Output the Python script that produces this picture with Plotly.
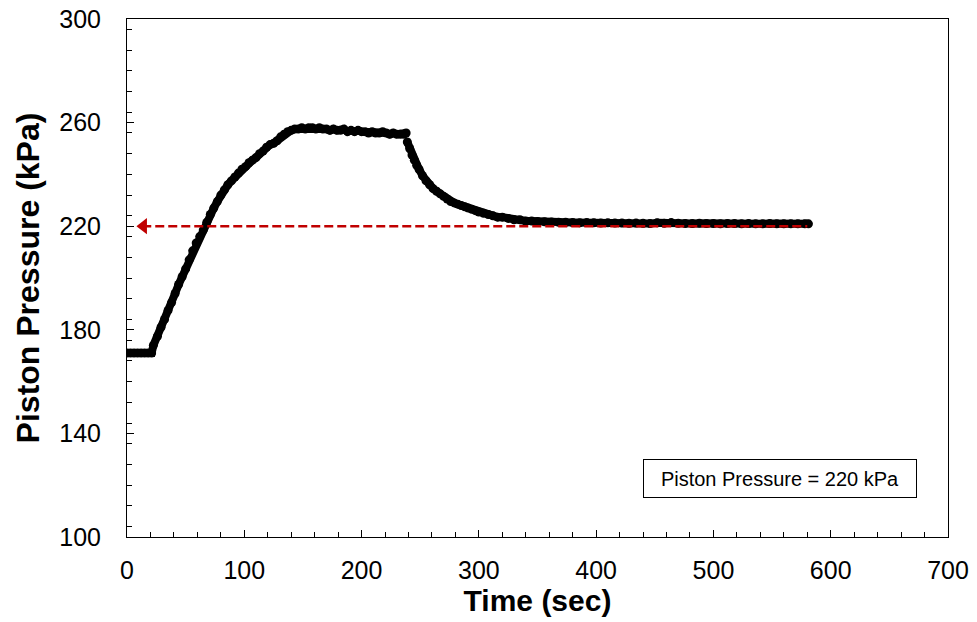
import plotly.graph_objects as go

# Loading phase (hold, ramp, plateau)
load_time_s = [0, 3, 6, 9, 12, 15, 18, 21, 22.5, 26, 29, 32, 35, 38, 41, 44, 47, 50,
               53, 56, 59, 62, 65, 68, 71, 74, 77, 80, 83, 86, 89, 92, 95, 98, 101,
               104, 107, 110, 113, 116, 119, 122, 125, 128, 131, 134, 137, 140, 143,
               146, 149, 152, 155, 158, 161, 164, 167, 170, 173, 176, 179, 182, 185,
               188, 191, 194, 197, 200, 203, 206, 209, 212, 215, 218, 221, 224, 227,
               230, 233, 236, 238]
load_pressure_kpa = [171, 171, 171, 171, 171, 171, 171, 171, 174, 177.5, 181, 184,
                     187.5, 190.5, 194, 197.5, 200.5, 203.5, 207, 210.5, 213.5, 216,
                     218.5, 221.5, 224.5, 227, 229.5, 232, 234, 236, 237.5, 239, 240.5,
                     242, 243, 244.5, 245.5, 246.5, 248, 249, 250.5, 251.5, 252, 253,
                     254.5, 255.5, 256.5, 257, 257.5, 257.5, 258, 257.5, 258, 258,
                     257.5, 258, 257.5, 257.5, 257, 257.5, 257, 257, 257.5, 256.5, 257,
                     256.5, 257, 256.5, 256.5, 256, 256.5, 256, 256, 256.5, 256, 255.5,
                     256, 255.5, 255.5, 255.5, 256]

# Unloading phase (relaxation to target)
unload_time_s = [239, 241, 243, 245, 247, 249, 252, 255, 258, 261, 264, 267, 270, 273,
                 276, 279, 282, 285, 288, 291, 294, 297, 300, 304, 308, 312, 316, 320,
                 325, 330, 335, 340, 345, 350, 356, 362, 368, 374, 380, 386, 392, 398,
                 404, 410, 416, 422, 428, 434, 440, 446, 452, 458, 464, 470, 476, 482,
                 488, 494, 500, 506, 512, 518, 524, 530, 536, 542, 548, 554, 560, 566,
                 572, 578, 581]
unload_pressure_kpa = [252.5, 250, 247.5, 245.5, 243.5, 242, 239.5, 237.5, 236, 234.5,
                       233.5, 232.5, 231.5, 230.5, 229.5, 229, 228.5, 228, 227.5, 227,
                       226.5, 226, 225.5, 225, 224.5, 224, 223.5, 223.5, 223, 222.5,
                       222.5, 222, 222, 221.8, 221.7, 221.6, 221.5, 221.5, 221.4, 221.3,
                       221.4, 221.3, 221.2, 221.3, 221.2, 221.2, 221.1, 221.2, 221.1,
                       221.0, 221.3, 221.1, 221.4, 221.1, 221.0, 221.0, 221.1, 221.0,
                       221.0, 220.9, 221.0, 221.0, 220.9, 221.0, 220.9, 220.9, 221.0,
                       220.9, 220.9, 220.9, 220.9, 220.9, 220.9]

target_pressure_kpa = 220
target_line_time_s = [13, 580]
box_text = "Piston Pressure = 220 kPa"

FONT = "Arial, Liberation Sans, sans-serif"

fig = go.Figure()
for t, p in [(load_time_s, load_pressure_kpa), (unload_time_s, unload_pressure_kpa)]:
    fig.add_trace(go.Scatter(
        x=t, y=p, mode="lines+markers",
        line=dict(color="black", width=8),
        marker=dict(color="black", size=9),
        showlegend=False, hoverinfo="skip"))

fig.add_trace(go.Scatter(
    x=target_line_time_s, y=[target_pressure_kpa] * 2, mode="lines",
    line=dict(color="#C00000", width=2.6, dash="9px,4px"),
    showlegend=False, hoverinfo="skip"))
fig.add_trace(go.Scatter(
    x=[target_line_time_s[0] + 1], y=[target_pressure_kpa], mode="markers",
    marker=dict(symbol="triangle-left", size=14, color="#C00000"),
    showlegend=False, hoverinfo="skip"))

fig.add_annotation(
    x=557, y=122.6, xref="x", yref="y", xanchor="center", yanchor="middle",
    text=box_text, showarrow=False, font=dict(family=FONT, size=20, color="black"),
    bordercolor="black", borderwidth=1, borderpad=1, width=270, height=35,
    bgcolor="white")

axis_common = dict(
    showgrid=False, zeroline=False, showline=True, linecolor="black", linewidth=1,
    mirror=True, ticks="inside", tickcolor="black", tickwidth=1, ticklen=7,
    tickfont=dict(family=FONT, size=25, color="black"),
    ticklabeloverflow="allow",
)

fig.update_xaxes(
    range=[0, 700], dtick=100, tick0=0,
    minor=dict(ticks="inside", ticklen=5, dtick=20, tickcolor="black", tickwidth=1),
    ticklabelstandoff=11,
    title=dict(text="<b>Time (sec)</b>", font=dict(family=FONT, size=30, color="black"),
               standoff=0),
    **axis_common)
fig.update_yaxes(
    range=[100, 300], dtick=40, tick0=100,
    minor=dict(ticks="inside", ticklen=5, dtick=8, tickcolor="black", tickwidth=1),
    ticklabelstandoff=20,
    title=dict(text="<b>Piston Pressure (kPa)</b>",
               font=dict(family=FONT, size=32, color="black"), standoff=10),
    **axis_common)

# page body has an 8px default margin: size the figure to fit the window
fig.update_layout(
    width=969, height=614,
    margin=dict(l=119, r=29, t=11, b=85, autoexpand=False),
    plot_bgcolor="white", paper_bgcolor="white",
)

fig.write_html("out.html")
